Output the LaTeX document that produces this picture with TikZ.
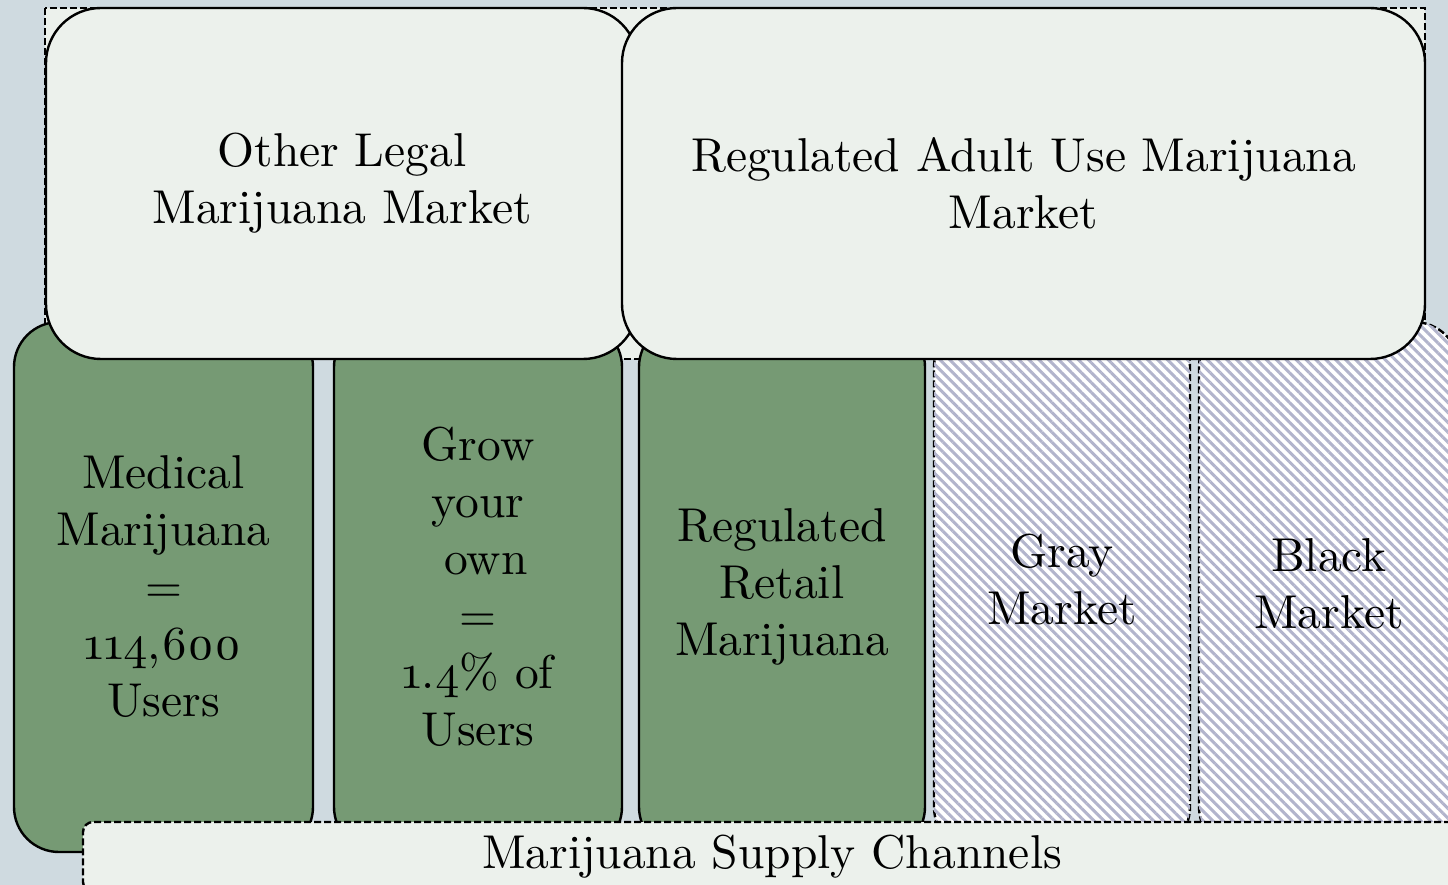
\documentclass[tikz,border=0pt]{standalone}
\usepackage{fontspec}
\setmainfont{lmroman10-regular.otf}[Numbers=OldStyle]
\usetikzlibrary{patterns.meta}
\definecolor{pagebg}{RGB}{207,218,224}
\definecolor{paleleaf}{RGB}{236,241,236}
\definecolor{leafgreen}{RGB}{118,154,116}
\definecolor{hatchgray}{RGB}{178,180,204}
\tikzset{
  marketbox/.style={draw=black,line width=2.4pt,fill=paleleaf,rounded corners=55pt,
    align=center,inner sep=0pt,minimum height=351pt},
  channel/.style={line width=2.4pt,rounded corners=45pt,align=center,inner sep=0pt,
    minimum height=530pt},
  greencol/.style={channel,draw=black,fill=leafgreen},
  hatchcol/.style={channel,draw=black,dash pattern=on 7pt off 3pt,fill=white,
    postaction={pattern={Lines[angle=-45,distance=7pt,line width=3pt]},pattern color=hatchgray}},
  supplybox/.style={draw=black,line width=2.4pt,dash pattern=on 7pt off 3pt,fill=paleleaf,
    rounded corners=10pt,inner sep=0pt,minimum height=70pt}
}
\begin{document}
\begin{tikzpicture}[x=1pt,y=-1pt,font=\fontsize{47.5}{57}\selectfont]
\useasboundingbox[fill=pagebg] (0,0) rectangle (1448,885);
\clip (0,0) rectangle (1448,885);

\draw[line width=2.4pt,dash pattern=on 7pt off 3pt,fill=paleleaf] (45,8) rectangle (1425,359);

\node[greencol,minimum width=299pt] (medical) at (163.5,587) {Medical\\Marijuana\\=\\114,600\\Users};
\node[greencol,minimum width=288pt] (grow) at (478,587) {Grow\\your\\\ own\\=\\1.4\% of\\Users};
\node[greencol,minimum width=286pt] (retail) at (782,587) {Regulated\\Retail\\Marijuana};
\node[hatchcol,minimum width=256pt,text depth=16pt] (gray) at (1062,587) {Gray\\Market};
\node[hatchcol,minimum width=260pt,text depth=6pt] (black) at (1329,587) {Black\\Market};

\node[marketbox,minimum width=592pt] (otherlegal) at (342,183.5) {Other Legal\\Marijuana Market};
\node[marketbox,minimum width=803pt] (adultuse) at (1023.5,183.5) {Regulated Adult Use Marijuana\\Market};

\node[supplybox,minimum width=1378pt] (supply) at (772,857) {Marijuana Supply Channels};
\end{tikzpicture}
\end{document}
